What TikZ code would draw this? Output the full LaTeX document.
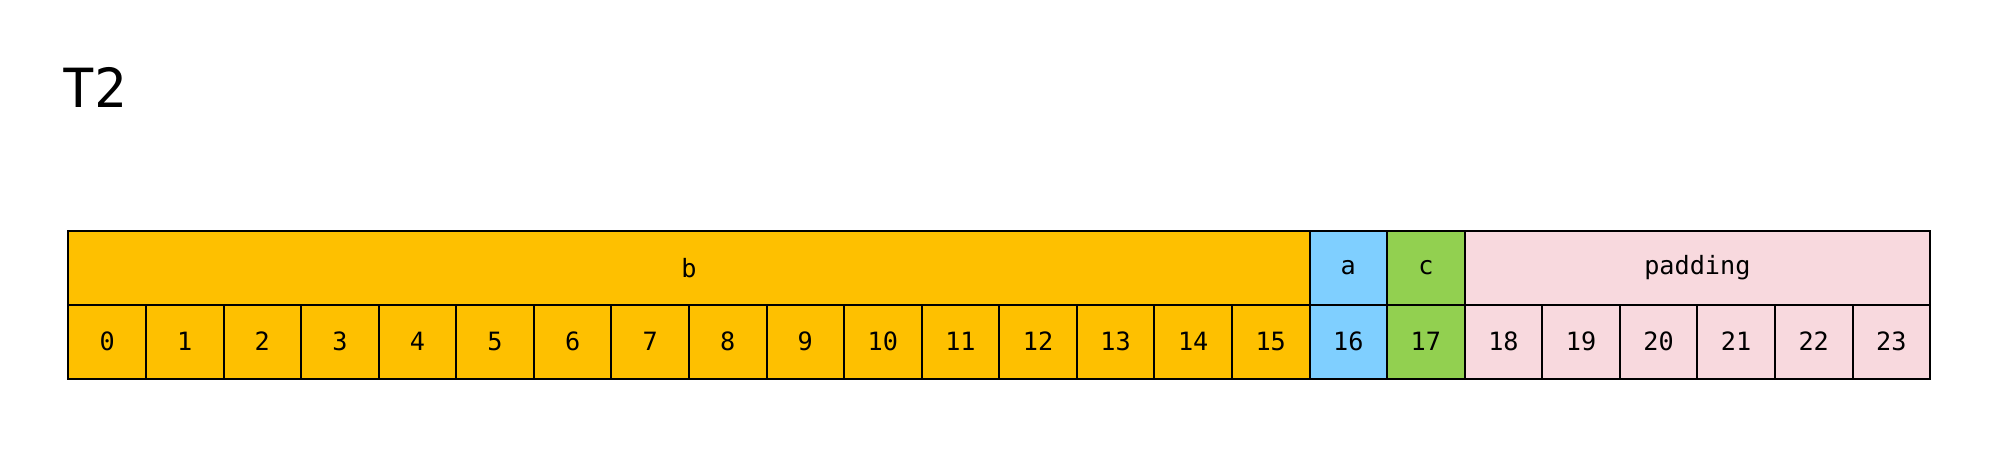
\documentclass[tikz,border=0pt]{standalone}
\usepackage{fontspec}
\setmonofont{DejaVu Sans Mono}
\definecolor{corange}{HTML}{FEC000}
\definecolor{cblue}{HTML}{7FCFFF}
\definecolor{cgreen}{HTML}{92D050}
\definecolor{cpink}{HTML}{F8D9DE}
\begin{document}
\begin{tikzpicture}[x=0.5pt,y=-0.5pt,
  cell/.style={draw=black,line width=1pt,rectangle,inner sep=0pt,anchor=north west,
    font=\ttfamily\fontsize{12.6}{14}\selectfont,minimum height=37pt},
]
\useasboundingbox (0,0) rectangle (1994,456);
\node[anchor=base west,font=\ttfamily\fontsize{27}{30}\selectfont,inner sep=0pt] (title) at (62,107) {T2};
\def\cw{77.57}
% bottom row
\foreach \i in {0,...,23}{
  \ifnum\i<16 \def\fc{corange}\else\ifnum\i=16 \def\fc{cblue}\else\ifnum\i=17 \def\fc{cgreen}\else\def\fc{cpink}\fi\fi\fi
  \node[cell,fill=\fc,minimum width=38.785pt] (n\i) at ({67.4+\cw*\i},303.5) {\i};
}
% top row
\node[cell,fill=corange,minimum width={16*38.785pt}] (b) at (67.4,230) {b};
\node[cell,fill=cblue,minimum width=38.785pt] (a) at ({67.4+\cw*16},230) {a};
\node[cell,fill=cgreen,minimum width=38.785pt] (c) at ({67.4+\cw*17},230) {c};
\node[cell,fill=cpink,minimum width={6*38.785pt}] (pad) at ({67.4+\cw*18},230) {padding};
\end{tikzpicture}
\end{document}
